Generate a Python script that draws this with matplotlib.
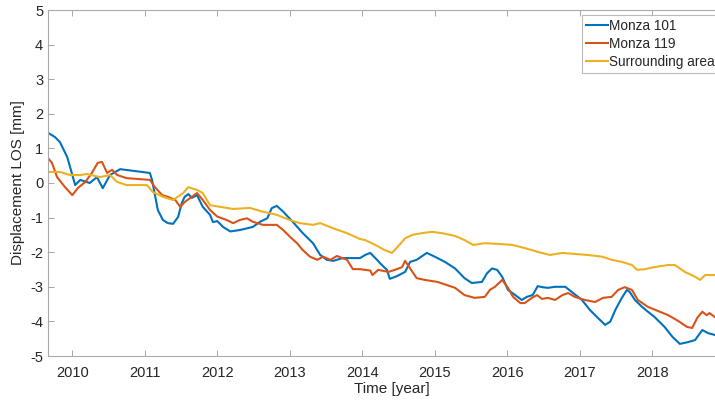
import matplotlib
matplotlib.use("Agg")
import matplotlib.pyplot as plt

plt.rcParams["font.family"] = ["Liberation Sans", "DejaVu Sans"]
plt.rcParams["axes.unicode_minus"] = False

# Monza 101
t_101 = [2009.665, 2009.76, 2009.83, 2009.93, 2010.04, 2010.11, 2010.24, 2010.34, 2010.42,
         2010.52, 2010.66, 2011.07, 2011.10, 2011.18, 2011.25, 2011.32, 2011.39, 2011.46,
         2011.51, 2011.55, 2011.60, 2011.65, 2011.72, 2011.80, 2011.90, 2011.94, 2012.0,
         2012.08, 2012.18, 2012.31, 2012.49, 2012.59, 2012.69, 2012.75, 2012.82, 2012.91,
         2013.04, 2013.18, 2013.32, 2013.42, 2013.51, 2013.60, 2013.73, 2013.97, 2014.04,
         2014.11, 2014.18, 2014.27, 2014.34, 2014.38, 2014.48, 2014.59, 2014.66, 2014.75,
         2014.89, 2015.0, 2015.14, 2015.28, 2015.41, 2015.51, 2015.65, 2015.72, 2015.79,
         2015.86, 2015.93, 2016.01, 2016.11, 2016.20, 2016.27, 2016.35, 2016.42, 2016.48,
         2016.56, 2016.66, 2016.80, 2016.89, 2017.03, 2017.14, 2017.25, 2017.35, 2017.42,
         2017.49, 2017.58, 2017.65, 2017.69, 2017.76, 2017.86, 2017.94, 2018.03, 2018.17,
         2018.28, 2018.38, 2018.49, 2018.59, 2018.69, 2018.77, 2018.86]
d_101 = [1.45, 1.33, 1.18, 0.75, -0.06, 0.09, 0.0, 0.17, -0.15,
         0.23, 0.4, 0.29, 0.09, -0.78, -1.07, -1.16, -1.18, -0.98,
         -0.58, -0.4, -0.32, -0.43, -0.35, -0.69, -0.92, -1.13, -1.1,
         -1.27, -1.4, -1.36, -1.27, -1.12, -1.02, -0.73, -0.66, -0.83,
         -1.12, -1.45, -1.74, -2.08, -2.22, -2.25, -2.17, -2.17, -2.08,
         -2.02, -2.17, -2.37, -2.51, -2.77, -2.69, -2.57, -2.28, -2.22,
         -2.02, -2.13, -2.28, -2.47, -2.75, -2.89, -2.86, -2.61, -2.47,
         -2.51, -2.71, -3.09, -3.24, -3.38, -3.29, -3.24, -2.98, -3.01,
         -3.03, -3.0, -3.0, -3.15, -3.38, -3.67, -3.9, -4.1, -4.01,
         -3.67, -3.32, -3.09, -3.15, -3.38, -3.58, -3.72, -3.87, -4.16,
         -4.45, -4.65, -4.6, -4.54, -4.25, -4.34, -4.39]

# Monza 119
t_119 = [2009.665, 2009.72, 2009.79, 2009.90, 2010.0, 2010.08, 2010.18, 2010.27, 2010.35,
         2010.41, 2010.48, 2010.55, 2010.62, 2010.75, 2011.07, 2011.14, 2011.24, 2011.32,
         2011.42, 2011.49, 2011.55, 2011.65, 2011.72, 2011.80, 2011.90, 2012.0, 2012.13,
         2012.22, 2012.31, 2012.41, 2012.49, 2012.63, 2012.82, 2012.91, 2013.0, 2013.10,
         2013.18, 2013.28, 2013.38, 2013.46, 2013.56, 2013.65, 2013.79, 2013.87, 2013.97,
         2014.04, 2014.11, 2014.14, 2014.22, 2014.36, 2014.45, 2014.55, 2014.59, 2014.75,
         2014.86, 2015.04, 2015.28, 2015.41, 2015.55, 2015.69, 2015.76, 2015.83, 2015.93,
         2016.01, 2016.08, 2016.18, 2016.24, 2016.34, 2016.41, 2016.48, 2016.56, 2016.66,
         2016.76, 2016.84, 2016.93, 2017.07, 2017.21, 2017.32, 2017.44, 2017.53, 2017.62,
         2017.72, 2017.80, 2017.94, 2018.08, 2018.22, 2018.36, 2018.48, 2018.55, 2018.62,
         2018.69, 2018.75, 2018.79, 2018.86]
d_119 = [0.72, 0.58, 0.17, -0.12, -0.35, -0.14, 0.03, 0.29, 0.58,
         0.61, 0.29, 0.38, 0.23, 0.14, 0.09, -0.12, -0.35, -0.4,
         -0.49, -0.69, -0.55, -0.4, -0.29, -0.49, -0.78, -0.97, -1.07,
         -1.16, -1.07, -1.02, -1.12, -1.21, -1.21, -1.36, -1.55, -1.74,
         -1.94, -2.13, -2.22, -2.13, -2.22, -2.11, -2.22, -2.49, -2.49,
         -2.51, -2.53, -2.66, -2.51, -2.57, -2.51, -2.43, -2.25, -2.75,
         -2.8, -2.86, -3.03, -3.24, -3.32, -3.29, -3.09, -3.0, -2.8,
         -3.03, -3.29, -3.47, -3.47, -3.32, -3.24, -3.35, -3.32, -3.38,
         -3.24, -3.18, -3.29, -3.38, -3.44, -3.32, -3.29, -3.09, -3.01,
         -3.09, -3.38, -3.58, -3.7, -3.82, -3.99, -4.16, -4.19, -3.9,
         -3.72, -3.82, -3.76, -3.87]

# Surrounding area
t_sur = [2009.665, 2009.83, 2009.97, 2010.11, 2010.20, 2010.38, 2010.52, 2010.62, 2010.75,
         2011.03, 2011.11, 2011.25, 2011.39, 2011.53, 2011.60, 2011.72, 2011.80, 2011.90,
         2012.04, 2012.22, 2012.45, 2012.63, 2012.82, 2013.0, 2013.14, 2013.32, 2013.42,
         2013.60, 2013.79, 2013.97, 2014.04, 2014.18, 2014.31, 2014.41, 2014.49, 2014.59,
         2014.69, 2014.82, 2014.96, 2015.10, 2015.28, 2015.41, 2015.53, 2015.69, 2015.87,
         2016.07, 2016.24, 2016.42, 2016.59, 2016.76, 2016.93, 2017.11, 2017.31, 2017.44,
         2017.58, 2017.72, 2017.79, 2017.90, 2018.03, 2018.22, 2018.31, 2018.45, 2018.59,
         2018.66, 2018.73, 2018.86]
d_sur = [0.32, 0.32, 0.23, 0.23, 0.26, 0.17, 0.23, 0.03, -0.06,
         -0.06, -0.26, -0.4, -0.49, -0.29, -0.12, -0.2, -0.29, -0.64,
         -0.69, -0.75, -0.72, -0.83, -0.92, -1.07, -1.16, -1.21, -1.16,
         -1.31, -1.45, -1.62, -1.65, -1.79, -1.94, -2.02, -1.84, -1.6,
         -1.5, -1.45, -1.41, -1.45, -1.53, -1.65, -1.79, -1.74, -1.76,
         -1.79, -1.88, -1.99, -2.08, -2.02, -2.05, -2.08, -2.13, -2.22,
         -2.28, -2.37, -2.51, -2.49, -2.43, -2.37, -2.37, -2.57, -2.71,
         -2.8, -2.66, -2.66]

years = [2010, 2011, 2012, 2013, 2014, 2015, 2016, 2017, 2018]
yticks = [-5, -4, -3, -2, -1, 0, 1, 2, 3, 4, 5]

text_c = "#262626"
fig = plt.figure(figsize=(7.15, 4.03), dpi=100)
ax = fig.add_axes([48 / 715, 1 - 356 / 403, 688 / 715, 346 / 403])

ax.plot(t_101, d_101, color="#0072BD", lw=1.5, label="Monza 101")
ax.plot(t_119, d_119, color="#D95319", lw=1.5, label="Monza 119")
ax.plot(t_sur, d_sur, color="#EDB120", lw=1.5, label="Surrounding area")

ax.set_xlim(2009.665, 2019.155)
ax.set_ylim(-5, 5)
ax.set_xticks(years)
ax.set_yticks(yticks)
ax.tick_params(direction="in", length=4, width=0.6, color="#999999",
               labelsize=10.5, labelcolor=text_c, top=True, right=True)
ax.tick_params(axis="x", pad=7)
for s in ax.spines.values():
    s.set_color("#aaaaaa")
    s.set_linewidth(0.8)

ax.set_xlabel("Time [year]", fontsize=11, color=text_c, labelpad=2)
ax.set_ylabel("Displacement LOS [mm]", fontsize=11, color=text_c, labelpad=4)

leg = ax.legend(loc="upper left", bbox_to_anchor=(582 / 715, 1 - 15 / 403),
                bbox_transform=fig.transFigure, fontsize=9.8, frameon=True,
                fancybox=False, borderpad=0.3, labelspacing=0.3,
                handlelength=1.6, handletextpad=0.1, borderaxespad=0)
leg.get_frame().set_edgecolor("#aaaaaa")
leg.get_frame().set_linewidth(0.8)
for txt in leg.get_texts():
    txt.set_color(text_c)

fig.savefig("out.png", dpi=100)
